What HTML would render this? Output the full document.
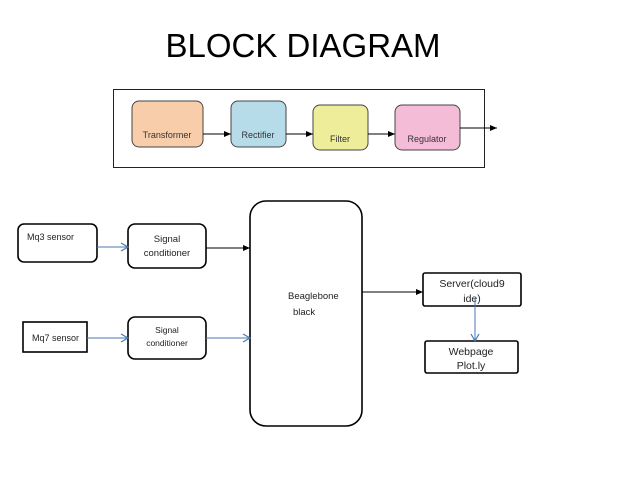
<!DOCTYPE html>
<html><head><style>
body{margin:0;background:#fff;width:638px;height:479px;overflow:hidden}
svg text{font-family:"Liberation Sans",sans-serif}
</style></head><body>
<svg width="638" height="479" viewBox="0 0 638 479" xmlns="http://www.w3.org/2000/svg">
<defs>
<marker id="k" markerWidth="8" markerHeight="8" refX="7" refY="4" orient="auto" markerUnits="userSpaceOnUse"><path d="M0,1 L7,4 L0,7z" fill="#000"/></marker>
<marker id="b" markerWidth="10" markerHeight="10" refX="8" refY="5" orient="auto" markerUnits="userSpaceOnUse"><path d="M1,1 L8,5 L1,9" fill="none" stroke="#4a7ab5" stroke-width="1.2"/></marker>
</defs>
<text x="303" y="57" font-size="33" text-anchor="middle" fill="#000">BLOCK DIAGRAM</text>
<rect x="113.5" y="89.5" width="371" height="78" fill="#fff" stroke="#222" stroke-width="1"/>
<rect x="132" y="101" width="71" height="46" rx="7" fill="#f8ceaa" stroke="#444"/>
<rect x="231" y="101" width="55" height="46" rx="7" fill="#b5dce8" stroke="#444"/>
<rect x="313" y="105" width="55" height="45" rx="7" fill="#eeee9a" stroke="#444"/>
<rect x="395" y="105" width="65" height="45" rx="7" fill="#f5bcd8" stroke="#444"/>
<g font-size="9" fill="#333" text-anchor="middle">
<text x="167" y="138">Transformer</text>
<text x="258" y="138">Rectifier</text>
<text x="340" y="142">Filter</text>
<text x="427" y="142">Regulator</text>
</g>
<g stroke="#000" stroke-width="1">
<line x1="203" y1="134" x2="231" y2="134" marker-end="url(#k)"/>
<line x1="286" y1="134" x2="313" y2="134" marker-end="url(#k)"/>
<line x1="368" y1="134" x2="395" y2="134" marker-end="url(#k)"/>
<line x1="460" y1="128" x2="497" y2="128" marker-end="url(#k)"/>
</g>
<g fill="#fff" stroke="#000" stroke-width="1.6">
<rect x="18" y="224" width="79" height="38" rx="6"/>
<rect x="128" y="224" width="78" height="44" rx="7"/>
<rect x="250" y="201" width="112" height="225" rx="16"/>
<rect x="23" y="322" width="64" height="30"/>
<rect x="128" y="317" width="78" height="42" rx="7"/>
<rect x="423" y="273" width="98" height="33" rx="2"/>
<rect x="425" y="341" width="93" height="32" rx="2"/>
</g>
<g font-size="9" fill="#222">
<text x="27" y="240">Mq3 sensor</text>
<text x="32" y="341">Mq7 sensor</text>
<text x="167" y="242" text-anchor="middle" font-size="9.5">Signal</text>
<text x="167" y="256" text-anchor="middle" font-size="9.5">conditioner</text>
<text x="167" y="333" text-anchor="middle" font-size="8.5">Signal</text>
<text x="167" y="346" text-anchor="middle" font-size="8.5">conditioner</text>
<text x="288" y="299" font-size="9.5">Beaglebone</text>
<text x="293" y="315" font-size="9.5">black</text>
<text x="472" y="287" text-anchor="middle" font-size="10.5">Server(cloud9</text>
<text x="472" y="302" text-anchor="middle" font-size="10.5">ide)</text>
<text x="471" y="355" text-anchor="middle" font-size="10.5">Webpage</text>
<text x="471" y="369" text-anchor="middle" font-size="10.5">Plot.ly</text>
</g>
<g stroke-width="1">
<line x1="97" y1="247" x2="128" y2="247" stroke="#4a7ab5" marker-end="url(#b)"/>
<line x1="206" y1="248" x2="250" y2="248" stroke="#000" marker-end="url(#k)"/>
<line x1="87" y1="338" x2="128" y2="338" stroke="#4a7ab5" marker-end="url(#b)"/>
<line x1="206" y1="338" x2="250" y2="338" stroke="#4a7ab5" marker-end="url(#b)"/>
<line x1="362" y1="292" x2="423" y2="292" stroke="#000" marker-end="url(#k)"/>
<line x1="475" y1="298" x2="475" y2="341" stroke="#4a7ab5" marker-end="url(#b)"/>
</g>
</svg>
</body></html>
